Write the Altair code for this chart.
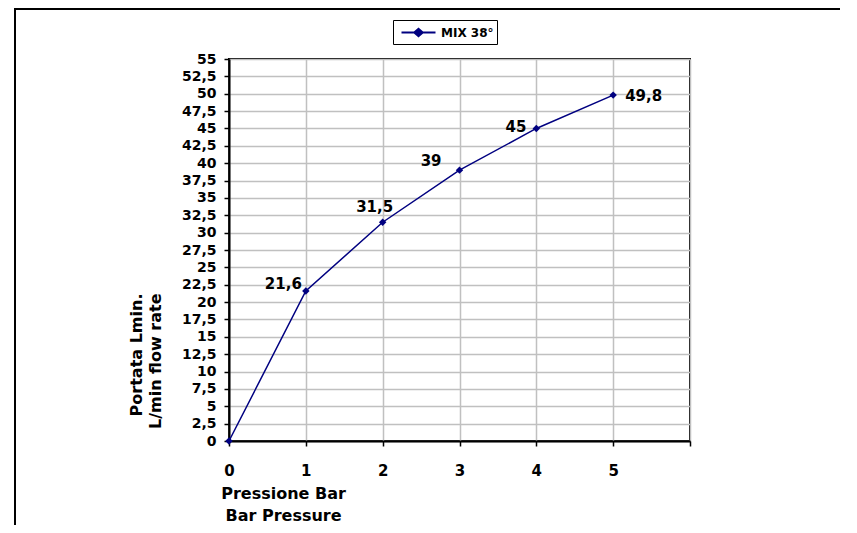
import altair as alt
import pandas as pd

pressure = [0, 1, 2, 3, 4, 5]
flow = [0, 21.6, 31.5, 39, 45, 49.8]
labels = ["", "21,6", "31,5", "39", "45", "49,8"]
series = "MIX 38°"
y_ticks = [i * 2.5 for i in range(23)]
x_ticks = [0, 1, 2, 3, 4, 5, 6]

df = pd.DataFrame({"p": pressure, "q": flow, "label": labels, "s": series})

FONT = "DejaVu Sans"
NAVY = "#000080"

x_enc = alt.X(
    "p:Q",
    scale=alt.Scale(domain=[0, 6], nice=False),
    axis=alt.Axis(
        values=x_ticks,
        labelExpr="datum.value < 6 ? datum.value : ''",
        labelFlush=False,
        labelPadding=17,
        labelFontSize=15,
        title=["Pressione Bar", "Bar Pressure"],
        titleX=54,
        titleY=44,
        titleAlign="center",
        titleBaseline="top",
        titleLineHeight=22,
        titleFontSize=16,
    ),
)
y_enc = alt.Y(
    "q:Q",
    scale=alt.Scale(domain=[0, 55], nice=False),
    axis=alt.Axis(
        values=y_ticks,
        labelExpr="replace(toString(datum.value), '.', ',')",
        labelOverlap=False,
        labelPadding=8,
        labelFontSize=14,
        title=["Portata Lmin.", "L/min flow rate"],
        titleAngle=270,
        titleAlign="right",
        titleBaseline="top",
        titleX=-101,
        titleY=234,
        titleLineHeight=19,
        titleFontSize=16,
    ),
)

color_scale = alt.Scale(range=[NAVY])
color_enc = alt.Color(
    "s:N",
    scale=color_scale,
    legend=alt.Legend(
        title=None,
        orient="none",
        legendX=164,
        legendY=-39,
        direction="horizontal",
        strokeColor="black",
        fillColor="white",
        padding=3,
        symbolType="M-2,0L-0.5,0M-0.5,0L0,-0.44L0.5,0L0,0.44ZM0.5,0L2,0",
        symbolSize=289,
        symbolOffset=13,
        labelOffset=13,
        symbolStrokeWidth=2,
        symbolFillColor=NAVY,
        symbolStrokeColor=NAVY,
        labelFont=FONT,
        labelFontSize=12,
        labelFontWeight="bold",
        labelColor="black",
    ),
)

base = alt.Chart(df)

line = base.mark_line(strokeWidth=1.5).encode(x=x_enc, y=y_enc, color=color_enc)
points = base.mark_point(shape="diamond", filled=True, size=55, opacity=1).encode(
    x=x_enc, y=y_enc, color=color_enc
)

offsets = {
    1: ("right", -4, -7),
    2: ("center", -8, -15),
    3: ("right", -18, -9),
    4: ("right", -10, -1),
    5: ("left", 12, 1),
}
text_layers = []
for idx, (al, dx, dy) in offsets.items():
    text_layers.append(
        base.transform_filter(alt.datum.p == pressure[idx])
        .mark_text(align=al, baseline="middle", dx=dx, dy=dy, font=FONT,
                   fontSize=15, fontWeight="bold", color="black")
        .encode(x=x_enc, y=y_enc, text="label:N")
    )

frame_df = pd.DataFrame({"a": [0]})
frame_left = alt.Chart(frame_df).mark_rule(color="black", strokeWidth=2).encode(
    x=alt.value(-214), y=alt.value(-50), y2=alt.value(480)
)
frame_top = alt.Chart(frame_df).mark_rule(color="black", strokeWidth=2).encode(
    x=alt.value(-215), x2=alt.value(620), y=alt.value(-50)
)

chart = (
    alt.layer(frame_left, frame_top, line, points, *text_layers)
    .properties(
        width=461,
        height=382,
        autosize=alt.AutoSizeParams(type="none"),
        padding={"left": 221, "top": 51, "right": 150, "bottom": 84},
        background="white",
    )
    .configure_view(stroke="black", strokeWidth=2)
    .configure_axis(
        domainColor="black",
        domainWidth=2,
        tickColor="black",
        tickWidth=1.5,
        tickSize=5,
        gridColor="#c0c0c0",
        gridWidth=1.5,
        labelFont=FONT,
        labelFontWeight="bold",
        labelColor="black",
        titleFont=FONT,
        titleFontWeight="bold",
        titleColor="black",
    )
)

chart.save("out.html", embed_options={"renderer": "svg", "actions": False})
